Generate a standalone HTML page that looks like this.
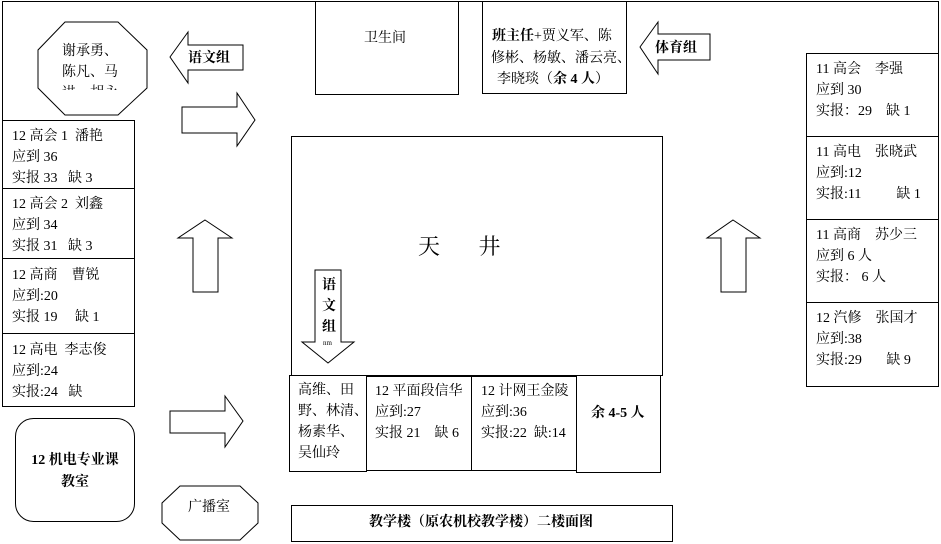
<!DOCTYPE html>
<html><head><meta charset="utf-8"><style>
body{margin:0;width:941px;height:544px;background:#fff;position:relative;overflow:hidden;font-family:"Liberation Serif","Noto Serif CJK SC","Noto Sans CJK SC",serif;font-size:14px;color:#000}
.t{position:absolute;line-height:21px;white-space:nowrap}
.b{font-weight:bold}
</style></head><body>
<svg width="941" height="544" style="position:absolute;left:0;top:0" fill="none" stroke="#000" stroke-width="1">
<path d="M2.5 120V1.5H938.5V53"/>
<rect x="315.5" y="1.5" width="143" height="93"/>
<rect x="482.5" y="1.5" width="144" height="92"/>
<polygon points="65,22 118,22 147,50 147,88 118,115 65,115 38,88 38,50"/>
<polygon points="170,57 188,32 188,45 243,45 243,70 188,70 188,83"/>
<polygon points="640,47 658,22 658,34 710,34 710,60 658,60 658,74"/>
<polygon points="182,107 237,107 237,93 255,120 237,146 237,133 182,133"/>
<polygon points="170,411 225,411 225,396 243,421 225,447 225,433 170,433"/>
<polygon points="205,220 232,238 218,238 218,292 193,292 193,238 178,238"/>
<polygon points="733,220 760,238 746,238 746,292 721,292 721,238 707,238"/>
<rect x="291.5" y="136.5" width="371" height="239"/>
<polygon points="315,270 341,270 341,342 354,342 328,363 302,342 315,342"/>
<rect x="2.5" y="120.5" width="132" height="68"/>
<rect x="2.5" y="188.5" width="132" height="70"/>
<rect x="2.5" y="258.5" width="132" height="75"/>
<rect x="2.5" y="333.5" width="132" height="73"/>
<rect x="15.5" y="418.5" width="119" height="103" rx="18"/>
<polygon points="180,486 240,486 258,503 258,523 240,540 180,540 162,523 162,503"/>
<rect x="289.5" y="375.5" width="77" height="96"/>
<rect x="366.5" y="376.5" width="105" height="94"/>
<rect x="471.5" y="376.5" width="105" height="94"/>
<rect x="576.5" y="375.5" width="84" height="97"/>
<rect x="291.5" y="505.5" width="381" height="36"/>
<rect x="806.5" y="53.5" width="132" height="83"/>
<rect x="806.5" y="136.5" width="132" height="83"/>
<rect x="806.5" y="219.5" width="132" height="83"/>
<rect x="806.5" y="302.5" width="132" height="84"/>
</svg>
<div class="t" style="left:364px;top:28px">卫生间</div>
<div class="t" style="left:492px;top:26px"><span class="b">班主任</span>+贾义军、陈</div>
<div class="t" style="left:491px;top:48px">修彬、杨敏、潘云亮、</div>
<div class="t" style="left:497px;top:69px">李晓琰（<span class="b">余 4 人</span>）</div>
<div class="t" style="left:62px;top:41px;height:49px;overflow:hidden;line-height:21px">谢承勇、<br>陈凡、马<br>进、胡永</div>
<div class="t b" style="left:188px;top:48px">语文组</div>
<div class="t b" style="left:655px;top:38px">体育组</div>
<div class="t" style="left:12px;top:126px">12 高会 1 &nbsp;潘艳<br>应到 36<br>实报 33 &nbsp;&nbsp;缺 3</div>
<div class="t" style="left:12px;top:194px">12 高会 2 &nbsp;刘鑫<br>应到 34<br>实报 31 &nbsp;&nbsp;缺 3</div>
<div class="t" style="left:12px;top:265px">12 高商 &nbsp;&nbsp;&nbsp;曹锐<br>应到:20<br>实报 19 &nbsp;&nbsp;&nbsp;&nbsp;缺 1</div>
<div class="t" style="left:12px;top:340px">12 高电 &nbsp;李志俊<br>应到:24<br>实报:24 &nbsp;&nbsp;缺</div>
<div class="t b" style="left:30px;top:450px;line-height:22px;text-align:center;width:90px">12 机电专业课<br>教室</div>
<div class="t" style="left:188px;top:497px">广播室</div>
<div class="t" style="left:418px;top:232px;font-size:22px;line-height:30px">天 &nbsp;&nbsp;&nbsp;&nbsp;&nbsp;&nbsp;井</div>
<div class="t b" style="left:322px;top:275px;line-height:21px">语<br>文<br>组</div>
<div class="t" style="left:323px;top:339px;font-size:7px;line-height:8px">nm</div>
<div class="t" style="left:298px;top:380px">高维、田<br>野、林清、<br>杨素华、<br>吴仙玲</div>
<div class="t" style="left:375px;top:381px">12 平面段信华<br>应到:27<br>实报 21 &nbsp;&nbsp;&nbsp;缺 6</div>
<div class="t" style="left:481px;top:381px">12 计网王金陵<br>应到:36<br>实报:22 &nbsp;缺:14</div>
<div class="t b" style="left:591px;top:403px">余 4-5 人</div>
<div class="t b" style="left:369px;top:512px">教学楼（原农机校教学楼）二楼面图</div>
<div class="t" style="left:816px;top:59px">11 高会 &nbsp;&nbsp;&nbsp;李强<br>应到 30<br>实报：29 &nbsp;&nbsp;&nbsp;缺 1</div>
<div class="t" style="left:816px;top:142px">11 高电 &nbsp;&nbsp;&nbsp;张晓武<br>应到:12<br>实报:11 &nbsp;&nbsp;&nbsp;&nbsp;&nbsp;&nbsp;&nbsp;&nbsp;&nbsp;缺 1</div>
<div class="t" style="left:816px;top:225px">11 高商 &nbsp;&nbsp;&nbsp;苏少三<br>应到 6 人<br>实报：&nbsp;6 人</div>
<div class="t" style="left:816px;top:308px">12 汽修 &nbsp;&nbsp;&nbsp;张国才<br>应到:38<br>实报:29 &nbsp;&nbsp;&nbsp;&nbsp;&nbsp;&nbsp;缺 9</div>
</body></html>
